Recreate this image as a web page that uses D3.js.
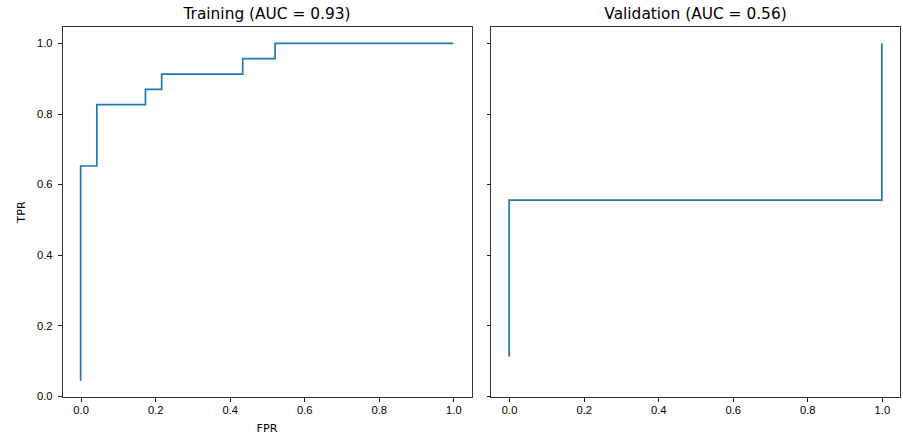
<!DOCTYPE html>
<html>
    <head>
        <meta charset="utf-8">
        <title>ROC curves</title>
        <script src="https://cdn.jsdelivr.net/npm/d3@7"></script>
        <style>
            body { margin: 0; background: #fff; }
            svg { font-family: "DejaVu Sans", sans-serif; }
            .axis path, .axis line { stroke: #000; stroke-width: 0.9; shape-rendering: crispEdges; }
            .axis text { font-size: 11.2px; fill: #000; }
        </style>
    </head>
    <body>
        <div id="chart"></div>
        <script>
            var width = 903, height = 437;

            // ROC points (FPR, TPR)
            const trainFpr = [0, 0, 1/23, 1/23, 4/23, 4/23, 5/23, 5/23, 10/23, 10/23, 12/23, 12/23, 1];
            const trainTpr = [1/23, 15/23, 15/23, 19/23, 19/23, 20/23, 20/23, 21/23, 21/23, 22/23, 22/23, 1, 1];
            const validFpr = [0, 0, 1, 1];
            const validTpr = [1/9, 5/9, 5/9, 1];
            const titles = ["Training (AUC = 0.93)", "Validation (AUC = 0.56)"];
            const ticks = [0, 0.2, 0.4, 0.6, 0.8, 1.0];

            var panels = [
                {fpr: trainFpr, tpr: trainTpr, left: 62, right: 472, title: titles[0], labels: true},
                {fpr: validFpr, tpr: validTpr, left: 490.5, right: 900.5, title: titles[1], labels: false}
            ];
            var plotTop = 26.5, plotBottom = 397.5;

            var svg = d3.select("#chart")
                .append("svg")
                .attr("width", width)
                .attr("height", height);

            // shared y range from all data, 5% margins like matplotlib
            var allTpr = trainTpr.concat(validTpr);
            var yMin = d3.min(allTpr), yMax = d3.max(allTpr);
            var yPad = (yMax - yMin) * 0.05;
            var yScale = d3.scaleLinear()
                .domain([yMin - yPad, yMax + yPad])
                .range([plotBottom, plotTop]);

            panels.forEach(function (p) {
                var xScale = d3.scaleLinear()
                    .domain([-0.05, 1.05])
                    .range([p.left, p.right]);

                var g = svg.append("g");

                var line = d3.line()
                    .x(function (d) { return xScale(d[0]); })
                    .y(function (d) { return yScale(d[1]); });

                g.append("path")
                    .datum(d3.zip(p.fpr, p.tpr))
                    .attr("d", line)
                    .attr("fill", "none")
                    .attr("stroke", "#1f77b4")
                    .attr("stroke-width", 1.7);

                // frame
                g.append("rect")
                    .attr("x", p.left)
                    .attr("y", plotTop)
                    .attr("width", p.right - p.left)
                    .attr("height", plotBottom - plotTop)
                    .attr("fill", "none")
                    .attr("stroke", "#333")
                    .attr("stroke-width", 1)
                    .attr("shape-rendering", "crispEdges");

                var xAxis = d3.axisBottom(xScale).tickValues(ticks)
                    .tickSize(4).tickPadding(5).tickFormat(d3.format(".1f"));
                g.append("g")
                    .attr("class", "axis")
                    .attr("transform", "translate(0," + plotBottom + ")")
                    .call(xAxis)
                    .call(function (a) { a.select(".domain").remove(); });

                var yAxis = d3.axisLeft(yScale).tickValues(ticks)
                    .tickSize(4).tickPadding(5.5)
                    .tickFormat(p.labels ? d3.format(".1f") : function () { return ""; });
                g.append("g")
                    .attr("class", "axis")
                    .attr("transform", "translate(" + p.left + ",0)")
                    .call(yAxis)
                    .call(function (a) { a.select(".domain").remove(); });

                g.append("text")
                    .attr("x", (p.left + p.right) / 2)
                    .attr("y", 19)
                    .attr("text-anchor", "middle")
                    .attr("font-size", "15.4px")
                    .text(p.title);
            });

            // axis labels on the left panel only
            svg.append("text")
                .attr("x", (panels[0].left + panels[0].right) / 2)
                .attr("y", 432)
                .attr("text-anchor", "middle")
                .attr("font-size", "11.2px")
                .text("FPR");

            svg.append("text")
                .attr("transform", "translate(25," + ((plotTop + plotBottom) / 2) + ") rotate(-90)")
                .attr("text-anchor", "middle")
                .attr("font-size", "11.2px")
                .text("TPR");
        </script>
    </body>
</html>
